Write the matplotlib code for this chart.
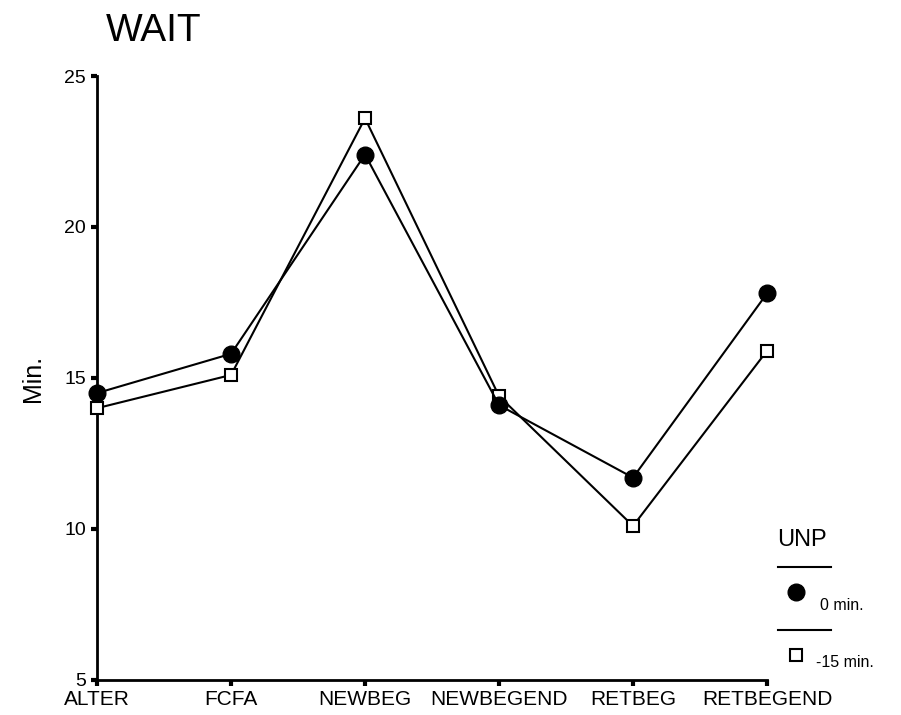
import matplotlib
matplotlib.use("Agg")
import matplotlib.pyplot as plt
from matplotlib.lines import Line2D

plt.rcParams['font.family'] = ['Liberation Sans', 'DejaVu Sans']

categories = ["ALTER", "FCFA", "NEWBEG", "NEWBEGEND", "RETBEG", "RETBEGEND"]
wait_0min = [14.5, 15.8, 22.4, 14.1, 11.7, 17.8]
wait_m15min = [14.0, 15.1, 23.6, 14.4, 10.1, 15.9]
y_ticks = [5, 10, 15, 20, 25]

fig = plt.figure(figsize=(9.01, 7.15), dpi=100)
ax = fig.add_axes([0.1077, 0.0490, 0.7436, 0.8447])

x = list(range(len(categories)))
ax.plot(x, wait_m15min, color='black', lw=1.5, marker='s', markersize=8,
        markerfacecolor='white', markeredgecolor='black', markeredgewidth=1.5,
        clip_on=False, zorder=3)
ax.plot(x, wait_0min, color='black', lw=1.5, marker='o', markersize=12,
        markerfacecolor='black', markeredgecolor='black', clip_on=False, zorder=4)

ax.set_xlim(0, len(categories) - 1)
ax.set_ylim(5, 25)
ax.set_xticks(x)
ax.set_xticklabels(categories, fontsize=15)
ax.set_yticks(y_ticks)
ax.set_yticklabels([str(v) for v in y_ticks], fontsize=14)
ax.tick_params(axis='x', direction='out', length=4, width=3, pad=3)
ax.tick_params(axis='y', direction='out', length=4, width=3, pad=4)
for s in ['top', 'right']:
    ax.spines[s].set_visible(False)
for s in ['left', 'bottom']:
    ax.spines[s].set_linewidth(2)
ax.set_ylabel("Min.", fontsize=18, labelpad=14)

fig.text(0.117, 0.931, "WAIT", fontsize=28, ha='left', va='bottom')

# legend
fig.text(0.863, 0.245, "UNP", fontsize=17, ha='left', va='center')
fig.add_artist(Line2D([0.864, 0.922], [0.207, 0.207], color='black', lw=1.5))
fig.add_artist(Line2D([0.884], [0.172], marker='o', markersize=12,
                      color='black', linestyle='none'))
fig.text(0.910, 0.153, "0 min.", fontsize=11.5, ha='left', va='center')
fig.add_artist(Line2D([0.864, 0.922], [0.119, 0.119], color='black', lw=1.5))
fig.add_artist(Line2D([0.884], [0.084], marker='s', markersize=8,
                      markerfacecolor='white', markeredgecolor='black',
                      markeredgewidth=1.5, linestyle='none'))
fig.text(0.906, 0.073, "-15 min.", fontsize=11.5, ha='left', va='center')

fig.savefig("out.png", dpi=100)
